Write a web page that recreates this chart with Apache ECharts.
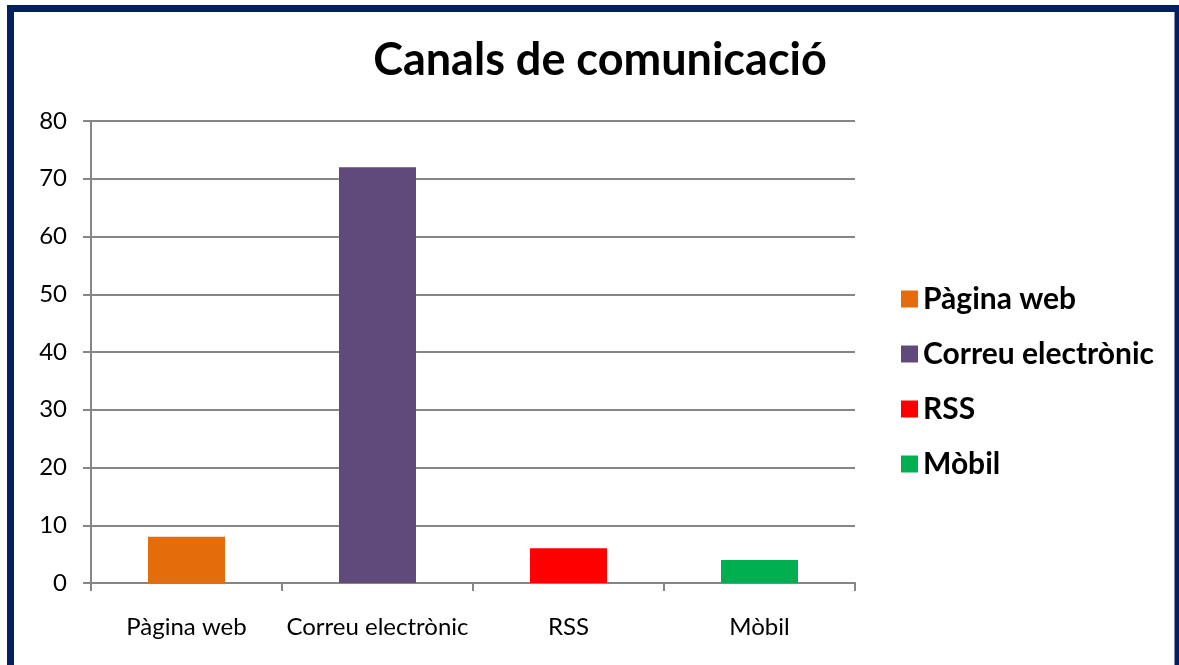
<!DOCTYPE html>
<html>
<head>
<meta charset="utf-8">
<script src="https://cdn.jsdelivr.net/npm/echarts@6/dist/echarts.min.js"></script>
<style>
  html, body { margin: 0; padding: 0; background: #fff; }
  #root { width: 1179px; height: 665px; }
</style>
</head>
<body>
<div id="root"></div>
<script>
// dades del gràfic
var categories = ['Pàgina web', 'Correu electrònic', 'RSS', 'Mòbil'];
var values = [8, 72, 6, 4];
var colors = ['#E46C0A', '#604A7B', '#FF0000', '#00B050'];
var yTicks = [0, 10, 20, 30, 40, 50, 60, 70, 80];

var font = 'Lato, "Open Sans", sans-serif';

// una sèrie per categoria perquè surti a la llegenda
var series = categories.map(function(name, i) {
  return {
    name: name,
    type: 'bar',
    stack: 'tot',
    barWidth: 77,
    itemStyle: { color: colors[i] },
    data: categories.map(function(c, j) {
      return j === i ? values[i] : '-';
    })
  };
});

var option = {
  animation: false,
  title: {
    text: 'Canals de comunicació',
    left: 595,
    top: 33,
    textAlign: 'center',
    textStyle: { fontFamily: font, fontSize: 45, fontWeight: 'bold', color: '#000' }
  },
  legend: {
    orient: 'vertical',
    left: 896,
    top: 279,
    icon: 'rect',
    itemWidth: 17,
    itemHeight: 17,
    itemGap: 25,
    textStyle: { fontFamily: font, fontSize: 30, lineHeight: 30, fontWeight: 'bold', color: '#000' },
    data: categories
  },
  grid: { left: 91, right: 324, top: 121, bottom: 82 },
  xAxis: {
    type: 'category',
    data: categories,
    boundaryGap: true,
    axisLine: { lineStyle: { color: '#868686', width: 2 } },
    axisTick: { show: true, alignWithLabel: false, interval: 0, length: 8, lineStyle: { color: '#868686', width: 2 } },
    axisLabel: { interval: 0, fontFamily: font, fontSize: 24, color: '#000', margin: 32 }
  },
  yAxis: {
    type: 'value',
    min: yTicks[0],
    max: yTicks[yTicks.length - 1],
    interval: 10,
    axisLine: { show: true, lineStyle: { color: '#868686', width: 2 } },
    axisTick: { show: true, length: 8, lineStyle: { color: '#868686', width: 2 } },
    splitLine: { lineStyle: { color: '#868686', width: 2 } },
    axisLabel: { fontFamily: font, fontSize: 24, color: '#000', margin: 24 }
  },
  graphic: [{
    type: 'rect',
    shape: { x: 10.5, y: 8.5, width: 1167.5, height: 700 },
    style: { fill: null, stroke: '#002060', lineWidth: 7 },
    silent: true
  }],
  series: series
};

var myChart = echarts.init(document.getElementById('root'));
myChart.setOption(option);
</script>
</body>
</html>
